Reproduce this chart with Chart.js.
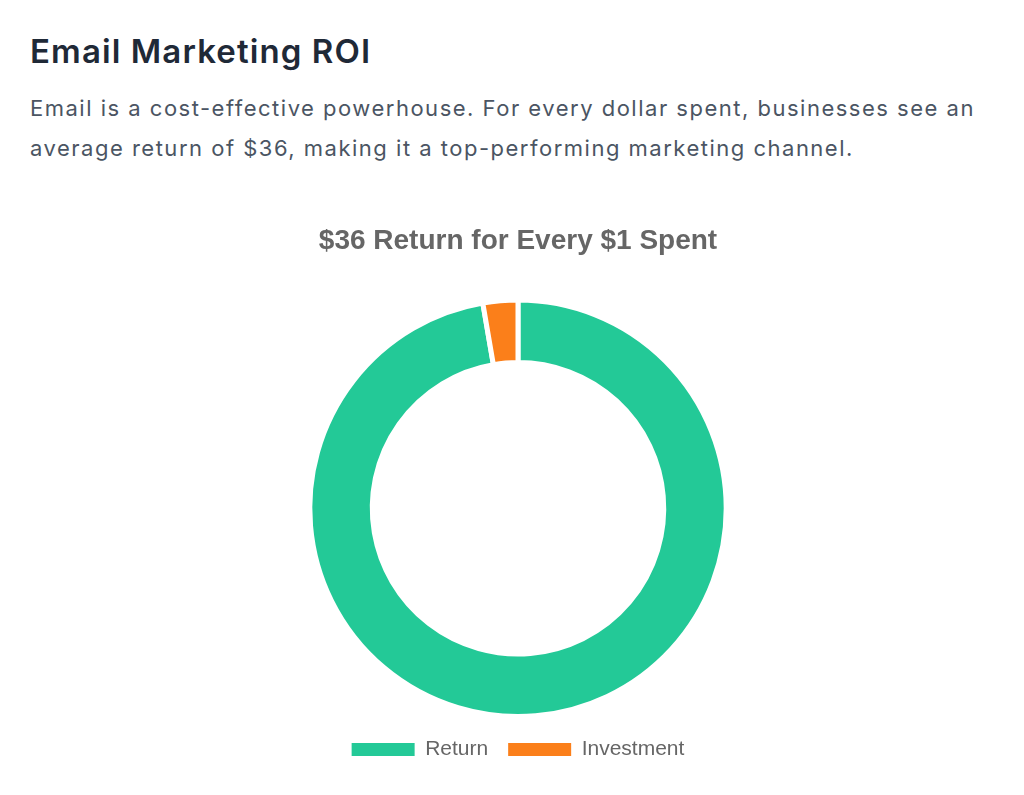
<!DOCTYPE html>
<html>
<head>
<meta charset="utf-8">
<script src="https://cdn.jsdelivr.net/npm/chart.js@4"></script>
<style>
  body { margin: 0; background: #ffffff; font-family: Inter, "Noto Sans", sans-serif; }
  h2 { position: absolute; left: 30px; top: 31px; margin: 0; font-size: 33px; line-height: 40px; font-weight: 600; letter-spacing: 1.1px; color: #1f2937; }
  p { position: absolute; left: 30px; top: 88px; width: 985px; margin: 0; font-size: 22px; line-height: 40px; letter-spacing: 1.5px; color: #4b5563; }
  #roiChart { position: absolute; left: 30px; top: 217px; width: 976px; height: 553px; }
</style>
</head>
<body>
<h2>Email Marketing ROI</h2>
<p>Email is a cost-effective powerhouse. For every dollar spent, businesses see an average return of $36, making it a top-performing marketing channel.</p>
<div id="roiChart"></div>
<script>
// data
const labels = ['Return', 'Investment'];
const values = [36, 1];
const colors = ['#23C997', '#FB7F1A'];
const chartTitle = '$36 Return for Every $1 Spent';

function paintRoi(id) {
    const el = document.getElementById(id);
    if (!el) return;
    el.innerHTML = '';

    const canvas = document.createElement('canvas');
    el.appendChild(canvas);

    new Chart(canvas, {
        type: 'doughnut',
        data: {
            labels: labels,
            datasets: [{
                data: values,
                backgroundColor: colors,
                borderColor: '#ffffff',
                borderWidth: 5
            }]
        },
        options: {
            responsive: true,
            maintainAspectRatio: false,
            animation: false,
            cutout: '70%',
            plugins: {
                title: {
                    display: true,
                    text: chartTitle,
                    color: '#666',
                    font: { family: 'Liberation Sans, Arial, sans-serif', size: 28, weight: 'bold' },
                    padding: { top: 7, bottom: 40 }
                },
                legend: {
                    position: 'bottom',
                    labels: {
                        color: '#666',
                        font: { family: 'Liberation Sans, Arial, sans-serif', size: 21 },
                        boxWidth: 63,
                        boxHeight: 13,
                        padding: 20,
                        // the white slice border would eat into the legend boxes, so drop it there
                        generateLabels: function (chart) {
                            const items = Chart.overrides.doughnut.plugins.legend.labels.generateLabels(chart);
                            items.forEach(item => { item.lineWidth = 0; });
                            return items;
                        }
                    }
                }
            }
        }
    });
}

paintRoi('roiChart');
</script>
</body>
</html>
